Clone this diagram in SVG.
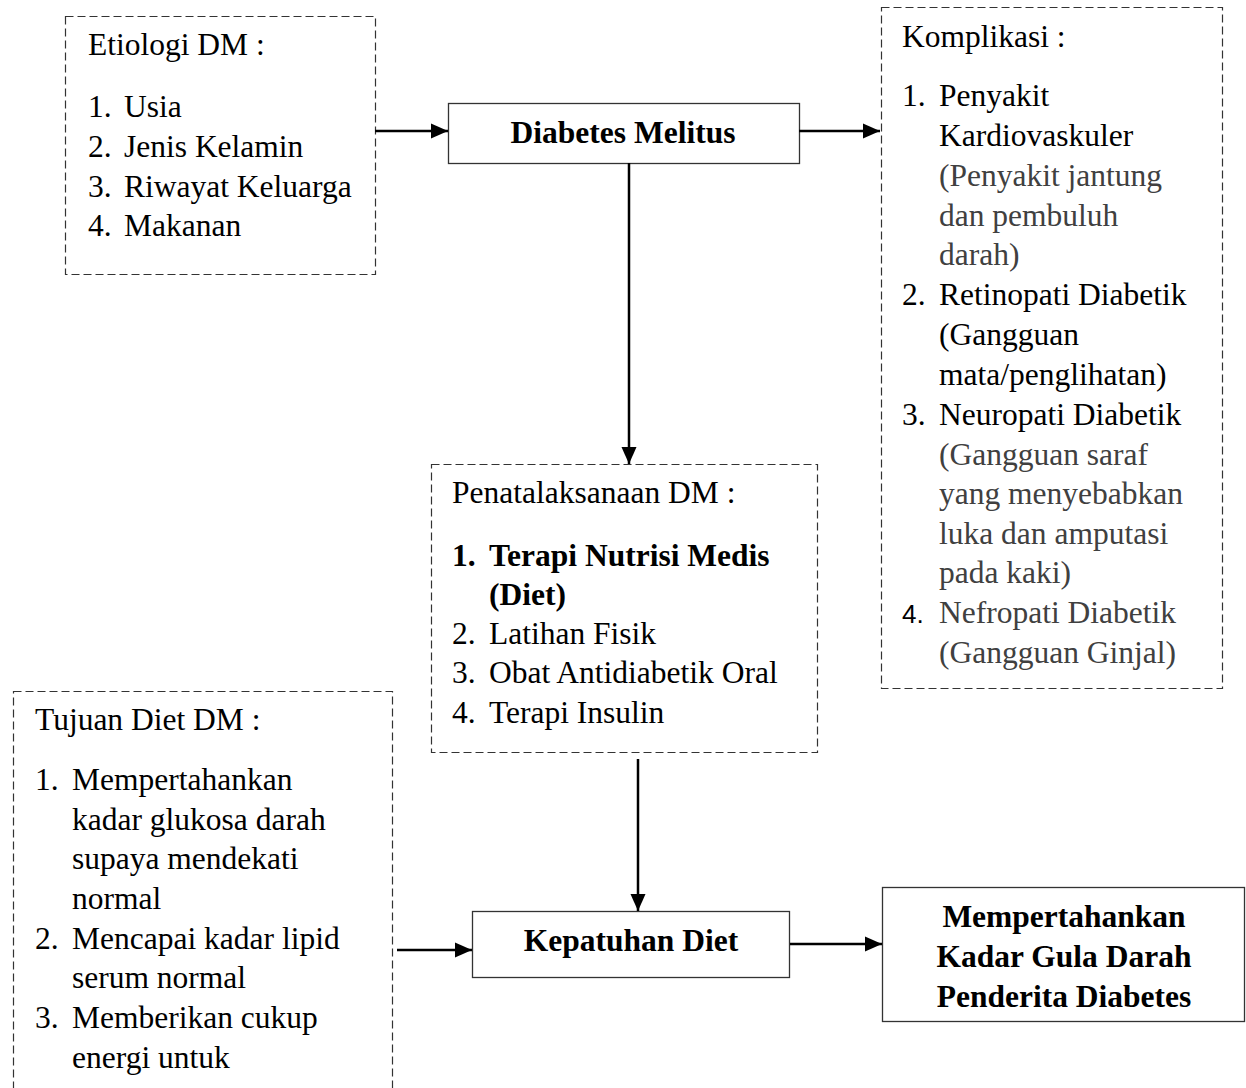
<svg xmlns="http://www.w3.org/2000/svg" width="1246" height="1088" viewBox="0 0 1246 1088">
<style>
text{font-family:"Liberation Serif","Times New Roman",serif;font-size:31.5px;fill:#000}
.b{font-weight:bold}
.g{fill:#404040}
.c{text-anchor:middle}
.sans{font-family:"Liberation Sans",Arial,sans-serif;font-size:26px}
.dash{fill:#fff;stroke:#333;stroke-width:1.2;stroke-dasharray:8 4}
.solid{fill:#fff;stroke:#333;stroke-width:1.3}
.conn{stroke:#000;stroke-width:2.5;fill:none;marker-end:url(#ah)}
</style>
<defs>
<marker id="ah" markerUnits="userSpaceOnUse" markerWidth="18" markerHeight="18" viewBox="0 0 18 18" refX="17" refY="9" orient="auto">
<path d="M0,1.5 L17,9 L0,16.5 Z" fill="#000"/>
</marker>
</defs>
<rect width="1246" height="1088" fill="#fff"/>

<g id="etiologi">
<rect class="dash" x="65.5" y="16.5" width="310" height="258"/>
<text x="88" y="55">Etiologi DM :</text>
<text x="88" y="117">1.</text><text x="124" y="117">Usia</text>
<text x="88" y="157">2.</text><text x="124" y="157">Jenis Kelamin</text>
<text x="88" y="197">3.</text><text x="124" y="197">Riwayat Keluarga</text>
<text x="88" y="236">4.</text><text x="124" y="236">Makanan</text>
</g>

<g id="diabetes">
<rect class="solid" x="448.5" y="103.5" width="351" height="60"/>
<text class="b c" x="623" y="143">Diabetes Melitus</text>
</g>

<g id="komplikasi">
<rect class="dash" x="881.5" y="7.5" width="341" height="681"/>
<text x="902" y="47">Komplikasi :</text>
<text x="902" y="106">1.</text><text x="939" y="106">Penyakit</text>
<text x="939" y="146">Kardiovaskuler</text>
<text class="g" x="939" y="186">(Penyakit jantung</text>
<text class="g" x="939" y="226">dan pembuluh</text>
<text class="g" x="939" y="265">darah)</text>
<text x="902" y="305">2.</text><text x="939" y="305">Retinopati Diabetik</text>
<text x="939" y="345">(Gangguan</text>
<text x="939" y="385">mata/penglihatan)</text>
<text x="902" y="425">3.</text><text x="939" y="425">Neuropati Diabetik</text>
<text class="g" x="939" y="465">(Gangguan saraf</text>
<text class="g" x="939" y="504">yang menyebabkan</text>
<text class="g" x="939" y="544">luka dan amputasi</text>
<text class="g" x="939" y="583">pada kaki)</text>
<text class="sans" x="902" y="623">4.</text><text class="g" x="939" y="623">Nefropati Diabetik</text>
<text class="g" x="939" y="663">(Gangguan Ginjal)</text>
</g>

<g id="penatalaksanaan">
<rect class="dash" x="431.5" y="464.5" width="386" height="288"/>
<text x="452" y="503">Penatalaksanaan DM :</text>
<text class="b" x="452" y="566">1.</text><text class="b" x="489" y="566">Terapi Nutrisi Medis</text>
<text class="b" x="489" y="605">(Diet)</text>
<text x="452" y="644">2.</text><text x="489" y="644">Latihan Fisik</text>
<text x="452" y="683">3.</text><text x="489" y="683">Obat Antidiabetik Oral</text>
<text x="452" y="723">4.</text><text x="489" y="723">Terapi Insulin</text>
</g>

<g id="tujuan">
<rect class="dash" x="13.5" y="691.5" width="379" height="420"/>
<text x="35" y="730">Tujuan Diet DM :</text>
<text x="35" y="790">1.</text><text x="72" y="790">Mempertahankan</text>
<text x="72" y="830">kadar glukosa darah</text>
<text x="72" y="869">supaya mendekati</text>
<text x="72" y="909">normal</text>
<text x="35" y="949">2.</text><text x="72" y="949">Mencapai kadar lipid</text>
<text x="72" y="988">serum normal</text>
<text x="35" y="1028">3.</text><text x="72" y="1028">Memberikan cukup</text>
<text x="72" y="1068">energi untuk</text>
</g>

<g id="kepatuhan">
<rect class="solid" x="472.5" y="911.5" width="317" height="66"/>
<text class="b c" x="631" y="951">Kepatuhan Diet</text>
</g>

<g id="hasil">
<rect class="solid" x="882.5" y="887.5" width="362" height="134"/>
<text class="b c" x="1064" y="927">Mempertahankan</text>
<text class="b c" x="1064" y="967">Kadar Gula Darah</text>
<text class="b c" x="1064" y="1007">Penderita Diabetes</text>
</g>

<g id="connectors">
<line class="conn" x1="375" y1="131" x2="448" y2="131"/>
<line class="conn" x1="799" y1="131" x2="880" y2="131"/>
<line class="conn" x1="629" y1="163" x2="629" y2="464"/>
<line class="conn" x1="638" y1="759" x2="638" y2="911"/>
<line class="conn" x1="397" y1="950" x2="472" y2="950"/>
<line class="conn" x1="790" y1="944" x2="882" y2="944"/>
</g>
</svg>
